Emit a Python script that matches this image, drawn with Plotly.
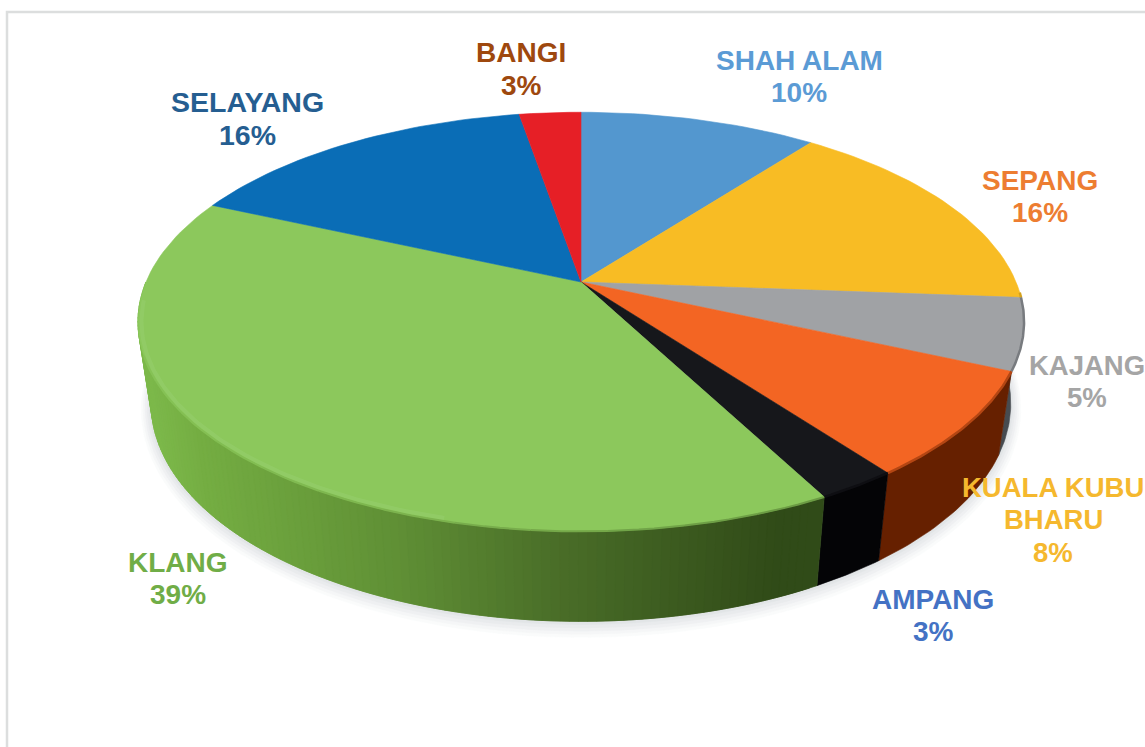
import numpy as np
import plotly.graph_objects as go

# ---- data ----
categories = ["SHAH ALAM", "SEPANG", "KAJANG", "KUALA KUBU<br>BHARU", "AMPANG", "KLANG", "SELAYANG", "BANGI"]
percent_labels = ["10%", "16%", "5%", "8%", "3%", "39%", "16%", "3%"]
slice_shares = [10.4, 15.8, 5.5, 8.1, 2.5, 39.4, 15.6, 2.7]

top_colors = ["#5397CF", "#F8BC24", "#A0A2A5", "#F36523", "#16171B", "#8CC85C", "#0A6DB6", "#E61F26"]
wall_colors = ["#2F5F8A", "#A97F14", "#474B50", "#662000", "#040406", "#5F8F35", "#07497A", "#8A1216"]
label_colors = ["#5B9BD5", "#ED7D31", "#A5A5A5", "#F5B82E", "#4472C4", "#70AD47", "#255E91", "#9E480E"]
label_x = [799, 1040, 1087, 1053, 933, 178, 247, 521]
label_y = [60, 180, 365, 487, 599, 562, 102, 53]
label_size = [28, 28, 27.5, 27.5, 28, 28, 28.5, 28]
LINE_STEP = 32.5

# ---- layout constants ----
W, H = 1145, 747
APEX_X, APEX_Y = 581, 282
SX, SY = 435.0, 202.0      # pixels per model unit
K = 0.19                   # perspective strength
WALL_FROM, WALL_TO = np.radians(93), np.radians(270)
C_TOP = (APEX_Y - 322) / SY
C_BOT = (APEX_Y - 404) / SY


def top_rim(t):
    X, Y = np.sin(t), np.cos(t)
    w = 1 + K * Y
    return X / w, Y / w


def bottom_rim(t, grow=0.0):
    x, y = top_rim(t)
    return x * (0.97 + grow * 0.45), C_BOT + (y - C_TOP) * (218 / 210 + grow)


def mix(a, b, f):
    ca = np.array([int(a[i:i + 2], 16) for i in (1, 3, 5)], float)
    cb = np.array([int(b[i:i + 2], 16) for i in (1, 3, 5)], float)
    c = ca + (cb - ca) * f
    return "#%02x%02x%02x" % tuple(int(round(v)) for v in c)


green_stops_x = [-0.99, -0.87, -0.41, -0.05, 0.46]
green_stops_c = ["#7CB84A", "#74AD42", "#5F8F35", "#4A6E28", "#304B18"]


def green_wall(x):
    for i in range(len(green_stops_x) - 1):
        if x <= green_stops_x[i + 1]:
            f = max(0.0, (x - green_stops_x[i]) / (green_stops_x[i + 1] - green_stops_x[i]))
            return mix(green_stops_c[i], green_stops_c[i + 1], f)
    return green_stops_c[-1]


fig = go.Figure()


def poly(x, y, color, width=0.6):
    fig.add_trace(go.Scatter(
        x=x, y=y, mode="lines", fill="toself", fillcolor=color,
        line=dict(color=color, width=width), hoverinfo="skip", showlegend=False,
    ))


def line(x, y, color, width, opacity=1.0):
    fig.add_trace(go.Scatter(x=x, y=y, mode="lines", line=dict(color=color, width=width),
                             opacity=opacity, hoverinfo="skip", showlegend=False))


def wall_quad(ts, color):
    px, py = top_rim(ts)
    qx, qy = bottom_rim(ts)
    poly(np.r_[px, qx[::-1], px[0]], np.r_[py, qy[::-1], py[0]], color)


edges = np.radians(np.concatenate([[0], np.cumsum(slice_shares)]) * 3.6)

# soft shadow under the disc
full = np.linspace(np.pi / 2 - 0.1, 3 * np.pi / 2 + 0.1, 120)
for g, col in zip([0.05, 0.04, 0.03, 0.02, 0.01], ["#FAFBFB", "#F5F6F7", "#EFF0F2", "#E9EBED", "#E2E5E7"]):
    sx, sy = bottom_rim(full, g)
    poly(sx, sy - g * 0.55, col)

# side wall: Klang in fine overlapping strips (lighting changes along it), the rest as one piece
klang = categories.index("KLANG")
for i in range(len(slice_shares)):
    a, b = max(edges[i], WALL_FROM), min(edges[i + 1], WALL_TO)
    if a >= b:
        continue
    if i != klang:
        wall_quad(np.linspace(a, b, 30), wall_colors[i])
for t0 in np.arange(edges[klang], WALL_TO, np.radians(1.0))[::-1]:
    ts = np.linspace(t0, min(t0 + np.radians(2.0), WALL_TO), 4)
    wall_quad(ts, green_wall(float(np.mean(top_rim(ts)[0]))))

# top face
for i, share in enumerate(slice_shares):
    a, b = edges[i], edges[i + 1]
    ts = np.linspace(a, b, max(int(np.degrees(b - a) / 1.5), 4))
    px, py = top_rim(ts)
    poly(np.r_[0, px, 0], np.r_[0, py, 0], top_colors[i])

# soft transition where the top face rolls over into the wall
for i in range(len(slice_shares)):
    a = max(edges[i], WALL_FROM)
    b = min(edges[i + 1], np.radians(250))
    if a >= b:
        continue
    ts = np.linspace(a, b, 60)
    px, py = top_rim(ts)
    if i == klang:
        for s in np.array_split(np.arange(len(ts)), 12):
            s = np.r_[s, min(s[-1] + 1, len(ts) - 1)]
            line(px[s], py[s], mix(top_colors[i], green_wall(float(px[s].mean())), 0.35), 2)
    else:
        line(px, py, mix(top_colors[i], wall_colors[i], 0.45), 2.5)

# light bevel along the left of the green rim
ts = np.linspace(np.radians(195), np.radians(265), 80)
px, py = top_rim(ts)
line(px * 0.992, (py - C_TOP) * 0.985 + C_TOP, "#9FD57C", 4, 0.3)

annotations = []
for name, pct, col, lx, ly, size in zip(categories, percent_labels, label_colors, label_x, label_y, label_size):
    for j, part in enumerate(name.split("<br>") + [pct]):
        annotations.append(dict(
            x=lx / W, y=1 - (ly + j * LINE_STEP) / H, xref="paper", yref="paper",
            xanchor="center", yanchor="middle", text=part, showarrow=False, align="center",
            font=dict(family="Liberation Sans", size=size, color=col, weight="bold"),
        ))

fig.update_layout(
    width=W, height=H, margin=dict(l=0, r=0, t=0, b=0),
    paper_bgcolor="#FFFFFF", plot_bgcolor="#FFFFFF", showlegend=False,
    xaxis=dict(range=[-APEX_X / SX, (W - APEX_X) / SX], visible=False, fixedrange=True),
    yaxis=dict(range=[(APEX_Y - H) / SY, APEX_Y / SY], visible=False, fixedrange=True),
    annotations=annotations,
    shapes=[dict(type="rect", xref="paper", yref="paper", x0=7 / W, x1=1.2, y0=-0.2, y1=1 - 12 / H,
                 line=dict(color="#DCDEDE", width=2.5), layer="below")],
)

fig.write_html("out.html", config={"displayModeBar": False},
               post_script="document.body.style.margin='0';document.body.style.overflow='hidden';")
